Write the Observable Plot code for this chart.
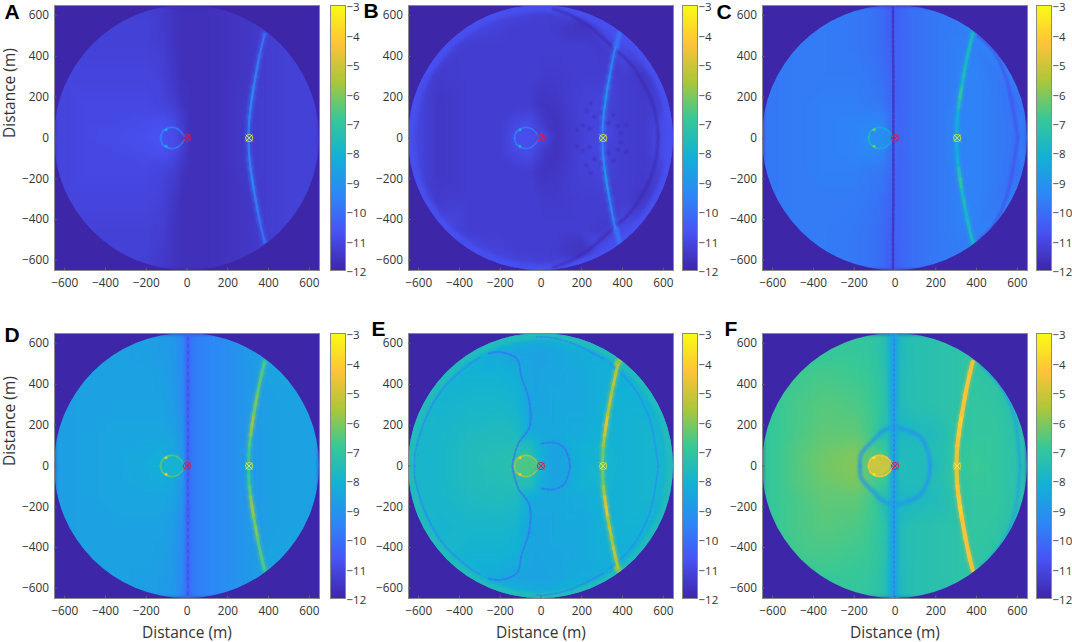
<!DOCTYPE html>
<html>
<head>
<meta charset="utf-8">
<script src="https://cdn.jsdelivr.net/npm/d3@7"></script>
<script src="https://cdn.jsdelivr.net/npm/@observablehq/plot@0.6"></script>
<style>
  body { margin: 0; background: #fff; }
  #chart { position: relative; width: 1072px; height: 642px; overflow: hidden; }
  #chart svg { position: absolute; overflow: visible; background: none; }
</style>
</head>
<body>
<div id="chart"></div>
<script>
// parula colour bar
const parulaStops = [-12, -10.714, -9.429, -8.143, -6.857, -5.571, -4.286, -3]
const parula = ["#3e26a8", "#4852f4", "#2d87f7", "#12b1d6", "#37c897", "#abc739", "#fec338", "#f9fb15"]
const axisTicks = [-600, -400, -200, 0, 200, 400, 600]
const barTicks = [-12, -11, -10, -9, -8, -7, -6, -5, -4, -3]

// sampled grid, upper half only: every panel is mirrored about y = 0
const gridX = [-650, -600, -500, -350, -200, -120, -60, -20, 20, 80, 200, 300, 400, 500, 600, 650]
const gridY = [0, 80, 160, 300, 450, 550, 650]

const fieldA = [
  [-11.1,-11.1,-11.0,-10.9,-10.8,-10.7,-10.9,-11.3,-11.7,-11.7,-11.6,-11.4,-11.3,-11.2,-11.2,-11.2],
  [-11.1,-11.1,-11.0,-11.0,-10.9,-10.8,-11.0,-11.4,-11.7,-11.7,-11.6,-11.4,-11.3,-11.2,-11.2,-11.2],
  [-11.1,-11.1,-11.0,-11.0,-11.0,-11.1,-11.3,-11.6,-11.7,-11.7,-11.6,-11.4,-11.3,-11.2,-11.2,-11.2],
  [-11.1,-11.1,-11.1,-11.1,-11.1,-11.2,-11.5,-11.7,-11.7,-11.7,-11.6,-11.5,-11.3,-11.2,-11.2,-11.2],
  [-11.2,-11.2,-11.2,-11.2,-11.2,-11.3,-11.6,-11.7,-11.7,-11.7,-11.6,-11.5,-11.3,-11.2,-11.2,-11.2],
  [-11.2,-11.2,-11.2,-11.2,-11.2,-11.4,-11.6,-11.7,-11.7,-11.7,-11.6,-11.5,-11.3,-11.2,-11.2,-11.2],
  [-11.2,-11.2,-11.2,-11.2,-11.3,-11.4,-11.6,-11.7,-11.7,-11.7,-11.6,-11.5,-11.3,-11.2,-11.2,-11.2]
]
const fieldB = [
  [-11.0,-11.1,-11.5,-11.3,-11.3,-10.8,-10.8,-10.9,-11.0,-11.6,-11.2,-11.0,-11.3,-11.4,-10.9,-10.7],
  [-11.0,-11.1,-11.5,-11.3,-11.3,-11.0,-10.9,-11.2,-11.5,-11.6,-11.2,-11.1,-11.3,-11.4,-10.9,-10.7],
  [-11.0,-11.1,-11.5,-11.3,-11.3,-11.3,-11.3,-11.5,-11.6,-11.5,-11.2,-11.1,-11.3,-11.4,-11.2,-10.7],
  [-11.0,-11.1,-11.4,-11.3,-11.3,-11.3,-11.3,-11.3,-11.4,-11.4,-11.3,-11.3,-11.3,-11.5,-10.9,-10.7],
  [-10.8,-10.9,-11.0,-11.3,-11.3,-11.3,-11.3,-11.3,-11.3,-11.3,-11.3,-11.4,-10.9,-10.8,-10.7,-10.7],
  [-10.7,-10.7,-10.8,-10.9,-11.2,-11.3,-11.3,-11.3,-11.3,-11.4,-11.6,-10.9,-10.6,-10.7,-10.7,-10.7],
  [-10.8,-10.8,-10.8,-10.8,-10.9,-11.0,-11.0,-11.2,-11.2,-11.0,-10.9,-10.8,-10.7,-10.7,-10.7,-10.7]
]
const fieldC = [
  [-9.8,-9.8,-9.7,-9.6,-9.5,-9.2,-9.3,-10.0,-10.2,-10.0,-9.8,-9.5,-9.5,-9.7,-9.9,-9.5],
  [-9.8,-9.8,-9.7,-9.6,-9.5,-9.4,-9.5,-10.1,-10.3,-10.0,-9.8,-9.5,-9.5,-9.7,-9.9,-9.5],
  [-9.8,-9.8,-9.7,-9.6,-9.6,-9.7,-9.8,-10.2,-10.3,-10.0,-9.8,-9.6,-9.5,-9.7,-10.0,-9.5],
  [-9.8,-9.8,-9.7,-9.7,-9.7,-9.8,-10.0,-10.3,-10.3,-10.0,-9.8,-9.6,-9.5,-9.8,-9.6,-9.5],
  [-9.7,-9.7,-9.7,-9.7,-9.8,-9.9,-10.1,-10.4,-10.3,-10.0,-9.8,-9.6,-9.6,-9.4,-9.4,-9.4],
  [-9.7,-9.7,-9.7,-9.7,-9.8,-9.9,-10.1,-10.5,-10.3,-10.0,-9.8,-9.7,-9.4,-9.4,-9.4,-9.4],
  [-9.7,-9.7,-9.7,-9.7,-9.8,-9.9,-10.1,-10.5,-10.3,-10.0,-9.8,-9.7,-9.4,-9.4,-9.4,-9.4]
]
const fieldD = [
  [-8.7,-8.7,-8.6,-8.5,-8.3,-8.1,-8.3,-8.9,-9.8,-9.5,-9.2,-8.9,-8.7,-8.6,-8.6,-8.6],
  [-8.7,-8.7,-8.6,-8.5,-8.4,-8.3,-8.5,-9.0,-9.8,-9.5,-9.2,-8.9,-8.7,-8.6,-8.6,-8.6],
  [-8.7,-8.7,-8.6,-8.5,-8.5,-8.5,-8.6,-9.1,-9.8,-9.5,-9.2,-8.9,-8.7,-8.6,-8.6,-8.6],
  [-8.7,-8.7,-8.6,-8.6,-8.6,-8.6,-8.8,-9.3,-9.8,-9.5,-9.2,-8.9,-8.7,-8.6,-8.6,-8.6],
  [-8.7,-8.7,-8.6,-8.6,-8.6,-8.7,-8.9,-9.4,-9.8,-9.5,-9.2,-8.9,-8.6,-8.5,-8.5,-8.5],
  [-8.7,-8.7,-8.6,-8.6,-8.7,-8.8,-8.9,-9.4,-9.8,-9.5,-9.2,-8.9,-8.5,-8.5,-8.5,-8.5],
  [-8.7,-8.7,-8.6,-8.6,-8.7,-8.8,-8.9,-9.5,-9.8,-9.5,-9.2,-8.9,-8.5,-8.5,-8.5,-8.5]
]
const fieldE = [
  [-7.8,-7.9,-7.9,-7.6,-7.4,-7.3,-7.2,-7.6,-8.4,-8.6,-8.2,-7.9,-8.1,-8.0,-8.0,-7.6],
  [-7.8,-7.9,-7.9,-7.6,-7.5,-7.4,-7.4,-8.0,-8.4,-8.6,-8.1,-8.0,-8.1,-8.0,-8.0,-7.6],
  [-7.8,-7.9,-7.9,-7.7,-7.6,-7.7,-8.3,-8.4,-8.4,-8.4,-8.3,-8.1,-8.1,-8.0,-8.0,-7.6],
  [-7.7,-7.9,-8.0,-7.9,-7.9,-8.0,-8.5,-8.5,-8.5,-8.4,-8.4,-8.2,-8.1,-8.1,-8.0,-7.6],
  [-7.6,-7.7,-7.9,-8.1,-8.1,-8.2,-8.5,-8.6,-8.5,-8.5,-8.4,-8.2,-8.2,-7.9,-7.6,-7.6],
  [-7.6,-7.6,-7.7,-7.9,-8.4,-8.6,-8.6,-8.6,-8.6,-8.5,-8.3,-8.3,-7.6,-7.6,-7.6,-7.6],
  [-7.6,-7.6,-7.6,-7.7,-7.7,-7.8,-7.9,-8.2,-8.2,-8.0,-7.7,-7.6,-7.6,-7.6,-7.6,-7.6]
]
const fieldF = [
  [-7.0,-6.9,-6.6,-6.2,-6.0,-6.6,-6.4,-6.6,-7.4,-7.6,-7.6,-7.0,-6.8,-7.0,-7.3,-7.3],
  [-7.0,-6.9,-6.6,-6.3,-6.1,-6.6,-6.8,-7.3,-7.6,-7.6,-7.5,-7.1,-6.9,-7.0,-7.3,-7.3],
  [-7.0,-6.9,-6.7,-6.4,-6.4,-6.7,-7.5,-7.7,-7.8,-7.8,-7.6,-7.2,-7.0,-7.0,-7.3,-7.3],
  [-7.0,-6.9,-6.7,-6.5,-6.6,-6.8,-7.1,-7.8,-7.6,-7.4,-7.3,-7.2,-7.0,-7.1,-7.4,-7.4],
  [-7.1,-7.0,-6.8,-6.7,-6.8,-6.9,-7.2,-7.9,-7.6,-7.4,-7.3,-7.2,-7.1,-7.2,-7.4,-7.4],
  [-7.1,-7.1,-6.9,-6.9,-6.9,-7.0,-7.3,-8.0,-7.7,-7.4,-7.3,-7.2,-7.1,-7.4,-7.4,-7.4],
  [-7.1,-7.1,-7.0,-7.0,-7.0,-7.1,-7.3,-8.0,-7.7,-7.4,-7.3,-7.3,-7.2,-7.4,-7.4,-7.4]
]

// the wavefront through the far marker
const frontX = [302, 303, 306, 312, 319, 327, 336, 345, 355, 367, 381]
const frontY = [0, 50, 100, 150, 200, 250, 300, 350, 400, 455, 510]
const frontA = [-9.8, -9.8, -9.7, -9.6, -9.4, -9.7, -9.8, -9.9, -10, -10, -10.1]
const frontB = [-9.7, -9.6, -9.4, -9.1, -9.0, -9.3, -9.5, -9.6, -9.7, -10, -10]
const frontC = [-8.3, -8.4, -8.2, -7.6, -7.2, -7.9, -7.7, -8, -7.8, -7.8, -8]
const frontD = [-7, -6.9, -6.6, -6.0, -5.8, -6.3, -6.1, -6.5, -6.5, -6.6, -6.9]
const frontE = [-6.2, -6.3, -5.7, -5.0, -4.8, -5.6, -5.3, -5.7, -5.3, -5.6, -6.2]
const frontF = [-4.6, -4.6, -4.4, -4.2, -4.0, -4.3, -4.3, -4.4, -4.4, -4.5, -4.5]

// the small ring beside the near marker
const ringX = [-130, -127, -120, -105, -90, -75, -58, -42, -28, -14]
const ringY = [0, 16, 32, 42, 50, 52, 50, 42, 30, 10]
const ringA = [-9.5, -9.6, -9.4, -9.2, -9.5, -9.7, -9.7, -9.8, -9.9, -10.3]
const ringB = [-9.6, -9.6, -9.5, -9.3, -9.7, -9.8, -9.8, -9.9, -10, -10.1]
const ringC = [-7.6, -7.8, -7.8, -7.5, -8.0, -8.2, -8.2, -8.3, -8.6, -8.8]
const ringD = [-6.5, -6.6, -6.4, -6.0, -6.4, -6.6, -6.6, -6.8, -7, -8]
const ringE = [-5.8, -5.8, -5.6, -5.2, -5.6, -5.8, -5.8, -5.8, -6, -6.4]
const ringF = [-4.3, -4.3, -4.2, -4.0, -4.2, -4.2, -4.2, -4.3, -4.4, -4.8]
const ringSpotX = [-103]
const ringSpotY = [41]

// outer rim, upper half
const rimX = [-642, -600, -500, -350, -200, 0, 200, 350, 500, 600, 642]
const rimY = [0, 230, 403, 541, 610, 642, 610, 541, 403, 230, 0]

// dark lobes and bright strips: x, y, value of each curve
const curvesB = [
  {x: rimX, y: rimY, v: -10.8},
  {x: [60, 150, 240, 363, 430, 485, 540, 565, 575], y: [634, 600, 544, 435, 375, 299, 190, 100, 0], v: -11.9},
  {x: [370, 380, 395], y: [440, 490, 545], v: -9.9}
]
const curvesC = [
  {x: [-8, -8, -8, -10, -10], y: [0, 150, 300, 500, 640], v: -11.6},
  {x: [602, 544, 480, 365], y: [0, 299, 430, 536], v: -10.9},
  {x: [395, 360], y: [505, 540], v: -8.4}
]
const curvesD = [
  {x: [5, 5, 5], y: [0, 300, 640], v: -10.3},
  {x: [4, 4, 4], y: [0, 300, 640], v: -11}
]
const curvesE = [
  {x: rimX, y: rimY, v: -7.6},
  {x: [-140, -136, -111, -57, -57, -95, -119, -201, -258], y: [0, 28, 110, 191, 314, 436, 526, 559, 551], v: -10},
  {x: [-620, -618, -569, -480, -348, -300], y: [0, 60, 224, 380, 502, 530], v: -9.5},
  {x: [3, 60, 110, 135, 142], y: [110, 115, 93, 40, 0], v: -10},
  {x: [575, 535, 453, 338], y: [0, 224, 387, 502], v: -9.4},
  {x: [306, 159, 28, -21], y: [526, 600, 633, 633], v: -9.6},
  {x: [370, 400], y: [500, 530], v: -5.6}
]
const curvesF = [
  {x: [172, 165, 123, 60, 0, -60, -106, -165, -172], y: [0, 60, 142, 175, 191, 170, 126, 60, 0], v: -9.1},
  {x: [-5, -5, -5], y: [0, 300, 640], v: -8.6},
  {x: [-5, -5, -5], y: [0, 300, 640], v: -9.6},
  {x: [613, 589, 531, 420], y: [0, 224, 371, 500], v: -8.7}
]

// speckle around the far marker
const speckX = [175, 205, 238, 262, 330, 378, 356, 296, 222, 392, 418, 244, 312]
const speckY = [40, 62, 45, 104, 72, 58, 113, 126, 135, 22, 66, 172, 168]

const panels = [
  {name: "A", field: fieldA, front: frontA, ring: ringA, spot: -8.2, curves: []},
  {name: "B", field: fieldB, front: frontB, ring: ringB, spot: -8.2, curves: curvesB, speck: -11.9},
  {name: "C", field: fieldC, front: frontC, ring: ringC, spot: -6.2, blob: -9.2, curves: curvesC},
  {name: "D", field: fieldD, front: frontD, ring: ringD, spot: -4.6, blob: -8, curves: curvesD},
  {name: "E", field: fieldE, front: frontE, ring: ringE, spot: -4.4, blob: -6.6, curves: curvesE},
  {name: "F", field: fieldF, front: frontF, ring: ringF, spot: -3.6, blob: -4.9, curves: curvesF}
]

// how each panel's curves are stroked: width, dash, opacity, blur
const curveStyles = {
  B: [[9, null, 1, 2], [2.5, null, 0.8, 1], [4, null, 1, 1]],
  C: [[2.5, "3 2", 0.9, 0.6], [2.5, null, 0.8, 1], [2, null, 1, 0.8]],
  D: [[5, null, 1, 1], [1.2, "2 5", 0.9, 0.4]],
  E: [[8, null, 1, 1.5], [2, "3 2", 0.7, 0.7], [2, "3 2", 0.6, 0.7], [2, "3 2", 0.7, 0.7], [2, "3 2", 0.6, 0.7], [2, "3 2", 0.6, 0.7], [4, null, 1, 1]],
  F: [[4, null, 0.7, 1.2], [9, null, 0.8, 1.5], [2, "2 3", 0.8, 0.5], [3, null, 0.7, 1]]
}
const frontWidth = {A: 2.2, B: 2, C: 3, D: 2.8, E: 2.8, F: 4}

// pixel layout of the six frames and their colour bars
const frameLeft = [54, 407.7, 762, 54, 407.7, 762]
const frameTop = [5, 5, 5, 333.3, 333.3, 333.3]
const barLeft = [329.5, 682, 1036.3, 329.5, 682, 1036.3]
const letterDx = [-50, -45, -46, -50, -37, -38]
const letterDy = [-1, -2, -1, -6, -12, -12]

const colorScale = {type: "linear", domain: parulaStops, range: parula, clamp: true}
const tickFont = "'Open Sans', sans-serif"
const tickColor = "#333"

let clipCount = 0
// keeps a mark inside the circular model domain
function clipDisc(index, scales, values, dimensions, context, next) {
  const g = next(index, scales, values, dimensions, context)
  const id = "disc" + (++clipCount)
  const cx = scales.x(0), cy = scales.y(0)
  const ns = "http://www.w3.org/2000/svg"
  const cp = document.createElementNS(ns, "clipPath")
  cp.setAttribute("id", id)
  const c = document.createElementNS(ns, "ellipse")
  c.setAttribute("cx", cx)
  c.setAttribute("cy", cy)
  c.setAttribute("rx", scales.x(650) - cx)
  c.setAttribute("ry", cy - scales.y(650))
  cp.appendChild(c)
  const wrap = document.createElementNS(ns, "g")
  wrap.appendChild(cp)
  wrap.setAttribute("clip-path", `url(#${id})`)
  wrap.appendChild(g)
  return wrap
}

function fieldTable(field) {
  const rows = []
  gridY.forEach((y, i) => gridX.forEach((x, j) => {
    rows.push({x, y, v: field[i][j]})
    if (y != 0) rows.push({x, y: -y, v: field[i][j]})
  }))
  return rows
}

// upper half of a curve plus its reflection, as two series
function curveTable(xs, ys, vs) {
  const rows = []
  for (const side of [1, -1]) {
    xs.forEach((x, i) => rows.push({x, y: side * ys[i], v: vs[i], side}))
  }
  return rows
}

function drawPanel(p, i) {
  const bottom = i >= 3
  const styles = curveStyles[p.name] || []
  const curveMarks = p.curves.map((c, k) => Plot.line(curveTable(c.x, c.y, c.x.map(() => c.v)), {
    x: "x", y: "y", stroke: "v", z: "side", curve: "catmull-rom",
    strokeWidth: styles[k][0],
    strokeDasharray: styles[k][1],
    strokeOpacity: styles[k][2],
    imageFilter: `blur(${styles[k][3]}px)`,
    render: clipDisc
  }))
  const speckMarks = p.speck ? [Plot.dot(curveTable(speckX, speckY, speckX.map(() => p.speck)), {
    x: "x", y: "y", fill: "v", r: 1.7, fillOpacity: 0.75, imageFilter: "blur(0.8px)", render: clipDisc
  })] : []
  const blobMarks = p.blob ? [Plot.areaY(ringX.map((x, k) => ({x, top: ringY[k], low: -ringY[k], v: p.blob})), {
    x: "x", y1: "low", y2: "top", fill: "v", curve: "catmull-rom", fillOpacity: 0.9, imageFilter: "blur(1.2px)"
  })] : []

  const svg = Plot.plot({
    width: 54 + 265 + 5,
    height: 15 + 265 + 44,
    marginLeft: 54, marginRight: 5, marginTop: 15, marginBottom: 44,
    x: {domain: [-650, 650]},
    y: {domain: [-650, 650]},
    color: colorScale,
    style: {fontFamily: tickFont, fontSize: "11.8px", color: tickColor, background: "none"},
    marks: [
      Plot.frame({fill: parula[0], stroke: null}),
      Plot.raster(fieldTable(p.field), {
        x: "x", y: "y", fill: "v", interpolate: "barycentric", pixelSize: 1,
        imageFilter: "blur(2px)", render: clipDisc
      }),
      ...curveMarks,
      ...speckMarks,
      ...blobMarks,
      // soft glow under the wavefront, then the crest itself
      Plot.line(curveTable(frontX, frontY, p.front), {
        x: "x", y: "y", stroke: "v", z: "side", strokeWidth: 6, strokeOpacity: 0.4,
        imageFilter: "blur(1.5px)", render: clipDisc
      }),
      Plot.line(curveTable(frontX, frontY, p.front), {
        x: "x", y: "y", stroke: "v", z: "side", strokeWidth: frontWidth[p.name],
        imageFilter: "blur(0.7px)", render: clipDisc
      }),
      Plot.line(curveTable(ringX, ringY, p.ring), {
        x: "x", y: "y", stroke: "v", z: "side", strokeWidth: 1.8, strokeOpacity: 0.85,
        strokeDasharray: "2.5 1.5", imageFilter: "blur(0.6px)"
      }),
      Plot.dot(curveTable(ringSpotX, ringSpotY, [p.spot]), {
        x: "x", y: "y", fill: "v", r: 1.5, imageFilter: "blur(0.4px)"
      }),
      Plot.dot([0], {x: d => d, y: () => 0, r: 3.6, stroke: "#e8173c", strokeWidth: 0.9}),
      Plot.dot([0], {x: d => d, y: () => 0, r: 3.2, symbol: "times", stroke: "#e8173c", strokeWidth: 0.9}),
      Plot.dot([305], {x: d => d, y: () => 0, r: 3.6, stroke: "#c9d83c", strokeWidth: 1}),
      Plot.dot([305], {x: d => d, y: () => 0, r: 3.2, symbol: "times", stroke: "#e6ee6a", strokeWidth: 0.9}),
      Plot.frame({stroke: "#8a8a8a", strokeWidth: 1}),
      Plot.axisX(axisTicks, {tickSize: -2.5, tickPadding: 11, stroke: "#666", label: null}),
      Plot.axisY(axisTicks, {tickSize: -2.5, tickPadding: 8, stroke: "#666", label: null}),
      Plot.text([p.name], {
        frameAnchor: "top-left", dx: letterDx[i], dy: letterDy[i], lineAnchor: "top", textAnchor: "start",
        fontFamily: "'Liberation Sans', Arial, sans-serif", fontWeight: "bold", fontSize: 21, fill: "#000"
      }),
      bottom ? Plot.text(["Distance (m)"], {frameAnchor: "bottom", dy: 39, fontSize: 15.5, fill: tickColor}) : null,
      i % 3 == 0 ? Plot.text(["Distance (m)"], {frameAnchor: "left", dx: -44, rotate: -90, fontSize: 15.5, fill: tickColor}) : null
    ]
  })
  svg.style.left = (frameLeft[i] - 54) + "px"
  svg.style.top = (frameTop[i] - 15) + "px"
  return svg
}

function drawBar(i) {
  const svg = Plot.plot({
    width: 15 + 21,
    height: 10 + 265 + 10,
    marginLeft: 0, marginRight: 21, marginTop: 10, marginBottom: 10,
    x: {domain: [0, 1], axis: null},
    y: {domain: [-12, -3]},
    color: colorScale,
    style: {fontFamily: tickFont, fontSize: "11.5px", color: tickColor, background: "none"},
    marks: [
      Plot.raster({x1: 0, x2: 1, y1: -12, y2: -3, width: 1, height: 265, fill: (x, y) => y}),
      Plot.frame({stroke: "#8a8a8a"}),
      Plot.axisY(barTicks, {anchor: "right", tickSize: 0, tickPadding: 1, label: null, dy: 2})
    ]
  })
  svg.style.left = barLeft[i] + "px"
  svg.style.top = (frameTop[i] - 10) + "px"
  return svg
}

const chart = document.getElementById("chart")
panels.forEach((p, i) => {
  chart.append(drawPanel(p, i))
  chart.append(drawBar(i))
})
</script>
</body>
</html>
